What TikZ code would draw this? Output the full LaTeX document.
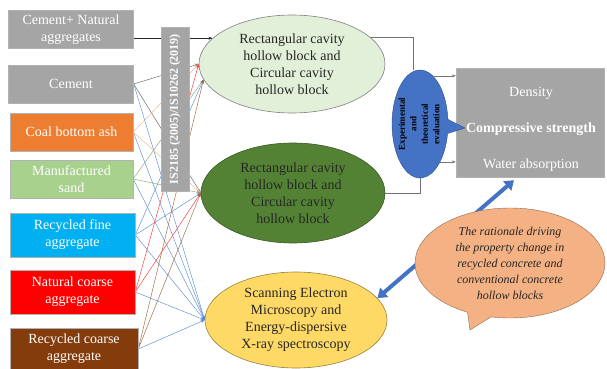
\documentclass[tikz,border=0pt]{standalone}
\usepackage{fontspec}
\setmainfont{Liberation Serif}
\usepackage{xcolor}
\usetikzlibrary{shapes.geometric,shapes.callouts,arrows.meta,backgrounds}
\definecolor{vgray}{HTML}{A5A5A5}
\definecolor{vorange}{HTML}{ED7D31}
\definecolor{vlgreen}{HTML}{A9D18E}
\definecolor{vcyan}{HTML}{00B0F0}
\definecolor{vred}{HTML}{FF0000}
\definecolor{vbrown}{HTML}{843C0C}
\definecolor{vpale}{HTML}{E2F0D9}
\definecolor{vdgreen}{HTML}{548235}
\definecolor{vyellow}{HTML}{FFD966}
\definecolor{vblue}{HTML}{4472C4}
\definecolor{vpeach}{HTML}{F4B183}
\definecolor{vlink}{HTML}{5B8BD5}
\definecolor{vtext}{HTML}{262626}

\tikzset{
	matbox/.style={draw=gray!60, line width=.5pt, minimum width=125pt, minimum height=38pt, inner sep=0pt, align=center, text=white, font=\fontsize{14}{17}\selectfont},
	blockell/.style={ellipse, line width=.6pt, minimum width=186pt, minimum height=98pt, inner sep=0pt, align=center, text=vtext, font=\fontsize{14}{17}\selectfont},
	link/.style={line width=.45pt, -{Stealth[length=4pt,width=3pt]}},
	flow/.style={draw=gray!90!black, line width=.6pt},
	bigarrow/.style={draw=vblue, line width=4pt, {Triangle[length=9pt,width=12pt]}-{Triangle[length=9pt,width=12pt]}}
}

\begin{document}
\begin{tikzpicture}[x=1pt, y=-1pt]
	\useasboundingbox (0,0) rectangle (607,369);
	\node[matbox, fill=vgray] (cna) at (71,29.5) {Cement+ Natural\\aggregates};
	\node[matbox, fill=vgray] (cem) at (71,84) {Cement};
	\node[matbox, fill=vorange, minimum width=123pt] (cba) at (71.5,132) {Coal bottom ash};
	\node[matbox, fill=vlgreen, minimum width=123pt] (msd) at (71.5,179) {Manufactured\\sand};
	\node[matbox, fill=vcyan, minimum height=44pt] (rfa) at (72.5,235) {Recycled fine\\aggregate};
	\node[matbox, fill=vred, minimum height=44pt] (nca) at (72.5,292) {Natural coarse\\aggregate};
	\node[matbox, fill=vbrown, minimum width=128pt, minimum height=42pt] (rca) at (74,349) {Recycled coarse\\aggregate};
	\node[blockell, fill=vpale, draw=gray] (hb1) at (292,64) {Rectangular cavity\\hollow block and\\Circular cavity\\hollow block};
	\node[blockell, fill=vdgreen, draw=vdgreen!70!black, minimum width=184pt, minimum height=100pt] (hb2) at (293,193) {Rectangular cavity\\hollow block and\\Circular cavity\\hollow block};
	\node[blockell, fill=vyellow, draw=vyellow!60!black, minimum width=182pt, minimum height=96pt] (sem) at (296,320) {Scanning Electron\\Microscopy and\\Energy-dispersive\\X-ray spectroscopy};
	\node[fill=vgray, draw=gray!60, rotate=90, minimum width=164pt, minimum height=28pt, inner sep=0pt, text=white, font=\bfseries\fontsize{12}{14}\selectfont] (code) at (175,109) {IS2185 (2005)/IS10262 (2019)};
	\node[fill=vgray, draw=gray!60, minimum width=148pt, minimum height=109pt, inner sep=0pt] (props) at (530,122.5) {};
	\node[text=white, align=center, font=\fontsize{14}{20}\selectfont] (proptext) at (531,129) {Density\\[16pt]\textbf{Compressive strength}\\[16pt]Water absorption};
	\node[ellipse callout, fill=vblue, draw=vblue!70!black, minimum width=56pt, minimum height=108pt, inner sep=0pt, callout absolute pointer={(465,128)}] (eval) at (420,124) {};
	\node[rotate=90, align=center, text=black, font=\bfseries\fontsize{9}{11.5}\selectfont] (evaltext) at (419,124) {Experimental\\and\\theoretical\\evaluation};
	\begin{scope}[on background layer]
		\draw[link, color=vtext] (hb1.162 -| cna.east) -- (hb1.162);
		\draw[link, color=gray!80!black] (cem.east) -- (hb1.west);
		\draw[link, color=gray!80!black] (cem.east) -- (hb2.west);
		\draw[link, color=vlink] (cem.east) -- (sem.west);
		\draw[link, color=vpeach] (cba.east) -- (hb1.west);
		\draw[link, color=vpeach] (cba.east) -- (hb2.west);
		\draw[link, color=vlink] (cba.east) -- (sem.west);
		\draw[link, color=vlgreen!80!black] (msd.east) -- (hb1.190);
		\draw[link, color=vlgreen!80!black] (msd.east) -- (hb2.west);
		\draw[link, color=vlink] (msd.east) -- (sem.west);
		\draw[link, color=vlink] (rfa.east) -- (hb1.190);
		\draw[link, color=vlink] (rfa.east) -- (hb2.west);
		\draw[link, color=vlink] (rfa.east) -- (sem.west);
		\draw[link, color=vred!80] (nca.east) -- (hb1.west);
		\draw[link, color=vred!80] (nca.east) -- (hb2.west);
		\draw[link, color=vlink] (nca.east) -- (sem.west);
		\draw[link, color=vbrown!80] (rca.east) -- (hb1.190);
		\draw[link, color=vbrown!80] (rca.east) -- (hb2.west);
		\draw[link, color=vlink] (rca.east) -- (sem.west);
		\draw[flow] (hb1.19) -| ([xshift=-7pt]eval.north);
		\draw[flow] (hb2.east) -| (eval.south);
	\end{scope}
	\draw[flow, -{Stealth[length=4pt,width=3pt]}] (eval.75) -- (eval.75 -| props.west);
	\draw[flow, -{Stealth[length=4pt,width=3pt]}] (eval.-62) -- (eval.-62 -| props.west);
	\draw[bigarrow] (sem.15) -- ([xshift=-16pt,yshift=-3pt]props.south);
	\node[ellipse callout, fill=vpeach, draw=vpeach!60!black, minimum width=190pt, minimum height=110pt, inner sep=0pt, callout absolute pointer={(470,330)}, align=center, text=vtext, font=\itshape\fontsize{12}{16}\selectfont] (why) at (510,263) {The rationale driving\\the property change in\\recycled concrete and\\conventional concrete\\hollow blocks};
\end{tikzpicture}
\end{document}
